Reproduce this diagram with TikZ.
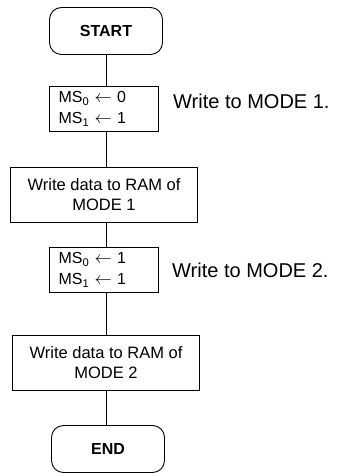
\documentclass[tikz,border=0pt]{standalone}
\usepackage{fontspec}
\setmainfont{Liberation Sans}
\begin{document}
\begin{tikzpicture}[x=1pt,y=-1pt,
  every node/.style={draw=none},
  line/.style={draw=black,line width=0.9pt},
  term/.style={line,rounded corners=12pt,minimum width=113pt,minimum height=47pt,inner sep=0pt,font=\fontsize{16}{19}\selectfont\bfseries},
  msbox/.style={line,minimum width=109pt,minimum height=45pt,inner sep=0pt,text width=91pt,align=left,font=\fontsize{16}{21}\selectfont},
  rambox/.style={line,minimum width=187pt,minimum height=55pt,inner sep=0pt,align=center,font=\fontsize{16.5}{20}\selectfont},
  lbl/.style={anchor=west,inner sep=0pt,font=\fontsize{20}{24}\selectfont}]
\useasboundingbox (0,0) rectangle (342,473);
\node[term] (start) at (106,31) {START};
\node[msbox] (ms1) at (104,109) {MS\textsubscript{0} $\leftarrow$ 0\\MS\textsubscript{1} $\leftarrow$ 1};
\node[rambox] (ram1) at (104,194.5) {Write data to RAM of\\MODE 1};
\node[msbox] (ms2) at (104,270) {MS\textsubscript{0} $\leftarrow$ 1\\MS\textsubscript{1} $\leftarrow$ 1};
\node[rambox] (ram2) at (106,362.5) {Write data to RAM of\\MODE 2};
\node[term] (end) at (108,449) {END};
\node[lbl] (l1) at (173,101) {Write to MODE 1.};
\node[lbl] (l2) at (172,270) {Write to MODE 2.};
\draw[line] (start.south -| 106,0) -- (ms1.north -| 106,0);
\draw[line] (ms1.south -| 106,0) -- (ram1.north -| 106,0);
\draw[line] (ram1.south -| 106,0) -- (ms2.north -| 106,0);
\draw[line] (ms2.south -| 106,0) -- (ram2.north -| 106,0);
\draw[line] (ram2.south -| 106,0) -- (end.north -| 106,0);
\end{tikzpicture}
\end{document}
